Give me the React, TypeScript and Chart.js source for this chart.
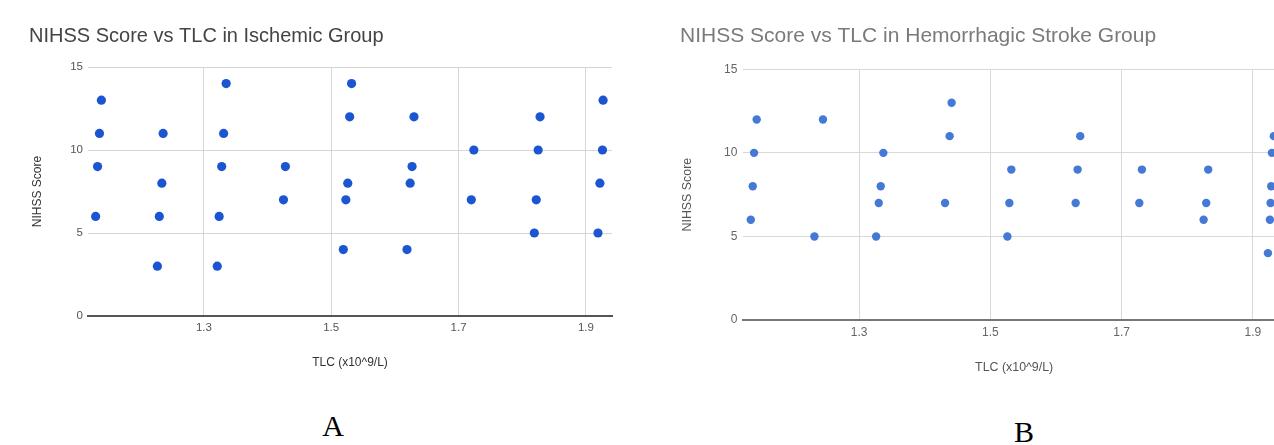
import React, { useEffect, useRef } from "react";
import { Chart, registerables } from "chart.js";

Chart.register(...registerables);

// ---- Data ----
const ischemicTLC = [
  1.139, 1.136, 1.133, 1.13,
  1.236, 1.234, 1.23, 1.227,
  1.335, 1.331, 1.328, 1.324, 1.321,
  1.428, 1.425,
  1.532, 1.529, 1.526, 1.523, 1.519,
  1.63, 1.627, 1.624, 1.619,
  1.724, 1.72,
  1.828, 1.825, 1.822, 1.819,
  1.927, 1.926, 1.922, 1.919,
];
const ischemicNIHSS = [
  13, 11, 9, 6,
  11, 8, 6, 3,
  14, 11, 9, 6, 3,
  9, 7,
  14, 12, 8, 7, 4,
  12, 9, 8, 4,
  10, 7,
  12, 10, 7, 5,
  13, 10, 8, 5,
];

const hemorrhagicTLC = [
  1.144, 1.14, 1.138, 1.135,
  1.245, 1.232,
  1.337, 1.333, 1.33, 1.326,
  1.441, 1.438, 1.431,
  1.532, 1.529, 1.526,
  1.637, 1.633, 1.63,
  1.731, 1.727,
  1.832, 1.829, 1.825,
  1.932, 1.929, 1.928, 1.927, 1.926, 1.923,
];
const hemorrhagicNIHSS = [
  12, 10, 8, 6,
  12, 5,
  10, 8, 7, 5,
  13, 11, 7,
  9, 7, 5,
  11, 9, 7,
  9, 7,
  9, 7, 6,
  11, 10, 8, 7, 6, 4,
];

const xTickValues = [1.3, 1.5, 1.7, 1.9];
const yMin = 0;
const yMax = 15;
const yStep = 5;

const titleA = "NIHSS Score vs TLC in Ischemic Group";
const titleB = "NIHSS Score vs TLC in Hemorrhagic Stroke Group";
const xAxisTitle = "TLC (x10^9/L)";
const yAxisTitle = "NIHSS Score";
const panelLabels = ["A", "B"];

const SANS = "'Liberation Sans', Arial, Helvetica, sans-serif";

type PanelSpec = {
  left: number;
  top: number;
  width: number;
  height: number;
  padL: number;
  padR: number;
  title: string;
  titleSize: number;
  titleColor: string;
  titlePadTop: number;
  titlePadBottom: number;
  yWidth: number;
  xHeight: number;
  xMin: number;
  xMax: number;
  tickSize: number;
  tickColor: string;
  axisTitleSize: number;
  axisTitleColor: string;
  tickPadY: number;
  tickPadX: number;
  yTitlePad: number;
  xTitlePadBottom: number;
  gridColor: string;
  baseColor: string;
  pointColor: string;
  radius: number;
  xs: number[];
  ys: number[];
};

const panelA: PanelSpec = {
  left: 0,
  top: 0,
  width: 640,
  height: 400,
  padL: 29,
  padR: 28,
  title: titleA,
  titleSize: 20,
  titleColor: "#444444",
  titlePadTop: 24,
  titlePadBottom: 19,
  yWidth: 59,
  xHeight: 84,
  xMin: 1.118,
  xMax: 1.941,
  tickSize: 11.5,
  tickColor: "#555555",
  axisTitleSize: 12,
  axisTitleColor: "#333333",
  tickPadY: 5,
  tickPadX: 5,
  yTitlePad: 1,
  xTitlePadBottom: 30,
  gridColor: "#d6d6d6",
  baseColor: "#555555",
  pointColor: "#1b55d1",
  radius: 4.6,
  xs: ischemicTLC,
  ys: ischemicNIHSS,
};

const panelB: PanelSpec = {
  left: 640,
  top: 0,
  width: 672,
  height: 405,
  padL: 40,
  padR: 27,
  title: titleB,
  titleSize: 21,
  titleColor: "#7a7a7a",
  titlePadTop: 23.4,
  titlePadBottom: 20.7,
  yWidth: 63.3,
  xHeight: 85,
  xMin: 1.1236,
  xMax: 1.949,
  tickSize: 12,
  tickColor: "#666666",
  axisTitleSize: 12.4,
  axisTitleColor: "#555555",
  tickPadY: 6,
  tickPadX: 5.8,
  yTitlePad: 0,
  xTitlePadBottom: 29.5,
  gridColor: "#d9d9d9",
  baseColor: "#777777",
  pointColor: "#4479d6",
  radius: 4.2,
  xs: hemorrhagicTLC,
  ys: hemorrhagicNIHSS,
};

function ScatterPanel({ spec }: { spec: PanelSpec }) {
  const ref = useRef<HTMLCanvasElement | null>(null);

  useEffect(() => {
    if (!ref.current) return;
    const points = spec.xs.map((x, i) => ({ x, y: spec.ys[i] }));
    const chart = new Chart(ref.current, {
      type: "scatter",
      data: {
        datasets: [
          {
            data: points,
            backgroundColor: spec.pointColor,
            borderColor: spec.pointColor,
            borderWidth: 0,
            pointRadius: spec.radius,
            pointHoverRadius: spec.radius,
          },
        ],
      },
      options: {
        responsive: false,
        animation: false,
        devicePixelRatio: 1,
        layout: {
          padding: { left: spec.padL, right: spec.padR, top: 0, bottom: 0 },
        },
        plugins: {
          legend: { display: false },
          tooltip: { enabled: false },
          title: {
            display: true,
            text: spec.title,
            align: "start",
            color: spec.titleColor,
            font: { family: SANS, size: spec.titleSize, weight: "normal" },
            padding: { top: spec.titlePadTop, bottom: spec.titlePadBottom },
          },
        },
        scales: {
          x: {
            type: "linear",
            min: spec.xMin,
            max: spec.xMax,
            afterBuildTicks: (scale: any) => {
              scale.ticks = xTickValues.map((v) => ({ value: v }));
            },
            afterFit: (scale: any) => {
              scale.height = spec.xHeight;
            },
            ticks: {
              autoSkip: false,
              maxRotation: 0,
              padding: spec.tickPadX,
              color: spec.tickColor,
              font: { family: SANS, size: spec.tickSize },
              callback: (v: any) => Number(v).toFixed(1),
            },
            grid: {
              color: spec.gridColor,
              lineWidth: 1,
              drawTicks: false,
            },
            border: { display: true, color: spec.baseColor, width: 2 },
            title: {
              display: true,
              text: xAxisTitle,
              color: spec.axisTitleColor,
              font: { family: SANS, size: spec.axisTitleSize },
              padding: { top: 0, bottom: spec.xTitlePadBottom },
            },
          },
          y: {
            type: "linear",
            min: yMin,
            max: yMax,
            afterFit: (scale: any) => {
              scale.width = spec.yWidth;
            },
            ticks: {
              stepSize: yStep,
              padding: spec.tickPadY,
              color: spec.tickColor,
              font: { family: SANS, size: spec.tickSize },
            },
            grid: {
              color: spec.gridColor,
              lineWidth: 1,
              drawTicks: false,
            },
            border: { display: false },
            title: {
              display: true,
              text: yAxisTitle,
              color: spec.axisTitleColor,
              font: { family: SANS, size: spec.axisTitleSize },
              padding: { top: spec.yTitlePad, bottom: 0 },
            },
          },
        },
      },
    } as any);
    return () => chart.destroy();
  }, [spec]);

  return (
    <canvas
      ref={ref}
      width={spec.width}
      height={spec.height}
      style={{
        position: "absolute",
        left: spec.left,
        top: spec.top,
        width: spec.width,
        height: spec.height,
      }}
    />
  );
}

const labelStyle: React.CSSProperties = {
  position: "absolute",
  fontFamily: "'Liberation Serif', 'Times New Roman', serif",
  fontSize: 30,
  lineHeight: "30px",
  color: "#000",
  width: 40,
  textAlign: "center",
};

export default function App() {
  return (
    <div
      style={{
        position: "fixed",
        left: 0,
        top: 0,
        width: 1274,
        height: 445,
        overflow: "hidden",
        background: "#ffffff",
      }}
    >
      <ScatterPanel spec={panelA} />
      <ScatterPanel spec={panelB} />
      <div style={{ ...labelStyle, left: 313, top: 411 }}>{panelLabels[0]}</div>
      <div style={{ ...labelStyle, left: 1004, top: 417 }}>{panelLabels[1]}</div>
    </div>
  );
}
